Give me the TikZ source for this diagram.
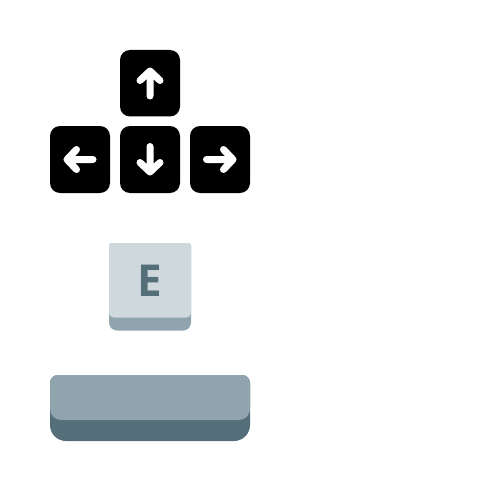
\documentclass[tikz,border=0pt]{standalone}
\usepackage{fontspec}
\setmainfont{Open Sans}[BoldFont={Open Sans Bold}]
\definecolor{keylight}{HTML}{CFD8DC}
\definecolor{keymid}{HTML}{90A4AE}
\definecolor{keydark}{HTML}{546E7A}
\tikzset{
  arrowkey/.style={fill=black,rounded corners=10pt},
  arrowline/.style={draw=white,line width=7pt,line cap=round,line join=round},
}
\begin{document}
\begin{tikzpicture}[x=1pt,y=-1pt]
\useasboundingbox (0,0) rectangle (500,500);
\fill[white] (0,0) rectangle (500,500);
% arrow keys
\fill[arrowkey] (120,50) rectangle (180,116.5);
\fill[arrowkey] (50,126) rectangle (110,193);
\fill[arrowkey] (120,126) rectangle (180,193);
\fill[arrowkey] (190,126) rectangle (250,193);
\draw[arrowline] (150,96) -- (150,71) (140,80.5) -- (150,71) -- (160,80.5);
\draw[arrowline] (150,146.5) -- (150,172) (140,162.5) -- (150,172) -- (160,162.5);
\draw[arrowline] (93,159.5) -- (67,159.5) (76.5,149.5) -- (67,159.5) -- (76.5,169.5);
\draw[arrowline] (206.5,159.5) -- (233,159.5) (223.5,149.5) -- (233,159.5) -- (223.5,169.5);
% E key
\fill[keymid] (109,246) arc[start angle=180,end angle=270,radius=3] -- (188,243) arc[start angle=270,end angle=360,radius=3] -- (191,322.5) arc[start angle=0,end angle=90,radius=8] -- (117,330.5) arc[start angle=90,end angle=180,radius=8] -- cycle;
\fill[keylight] (109,246) arc[start angle=180,end angle=270,radius=3] -- (188,243) arc[start angle=270,end angle=360,radius=3] -- (191,313) arc[start angle=0,end angle=90,radius=4.5] -- (113.5,317.5) arc[start angle=90,end angle=180,radius=4.5] -- cycle;
\node[text=keydark,font=\fontsize{44pt}{44pt}\selectfont\bfseries,inner sep=0pt,anchor=center] (ekey) at (150,281) {E};
% space bar
\fill[keydark] (50,383) arc[start angle=180,end angle=270,radius=8] -- (242,375) arc[start angle=270,end angle=360,radius=8] -- (250,425) arc[start angle=0,end angle=90,radius=16] -- (66,441) arc[start angle=90,end angle=180,radius=16] -- cycle;
\fill[keymid] (50,383) arc[start angle=180,end angle=270,radius=8] -- (242,375) arc[start angle=270,end angle=360,radius=8] -- (250,409) arc[start angle=0,end angle=90,radius=11] -- (61,420) arc[start angle=90,end angle=180,radius=11] -- cycle;
\end{tikzpicture}
\end{document}
